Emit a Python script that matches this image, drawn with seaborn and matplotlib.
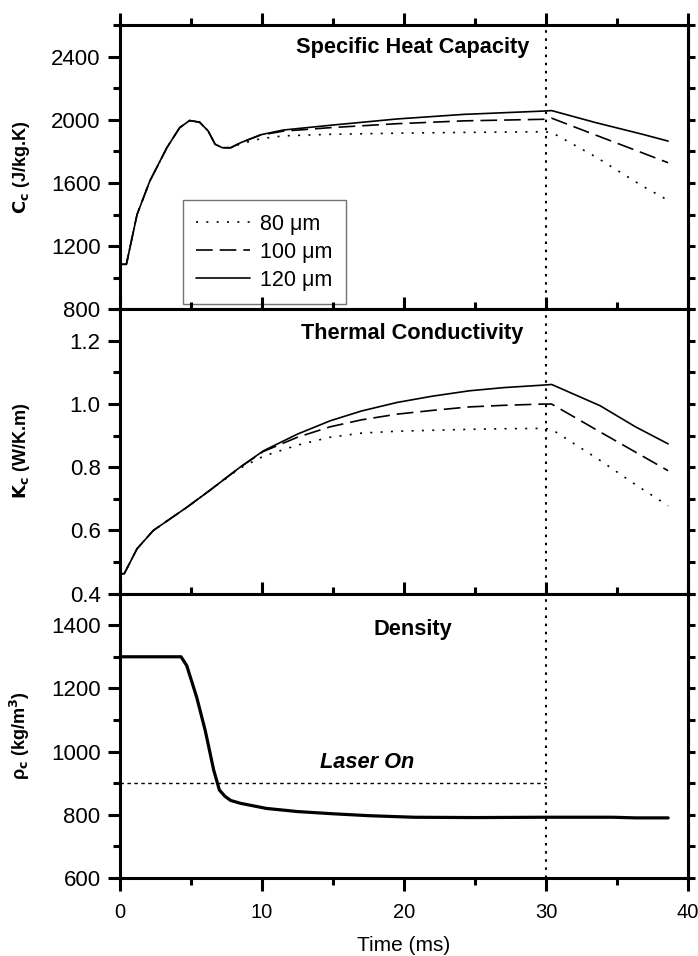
import numpy as np
import pandas as pd
import seaborn as sns
import matplotlib.pyplot as plt
from matplotlib.ticker import MultipleLocator

# ---- data ----
sizes = ["80 \u03bcm", "100 \u03bcm", "120 \u03bcm"]

# specific heat capacity
t_cp = [0, 0.45, 1.2, 2.1, 3.3, 4.2, 4.9, 5.6, 6.2, 6.7, 7.2, 7.8, 8.5, 9.9,
        11.5, 14.8, 19.5, 24.2, 29.8, 30.4, 33.5, 36.8, 38.6]
cp_80 = [1085, 1085, 1400, 1612, 1823, 1950, 1995, 1985, 1930, 1845, 1823, 1823,
         1848, 1880, 1898, 1908, 1915, 1920, 1924, 1920, 1765, 1580, 1490]
cp_100 = [1085, 1085, 1400, 1612, 1823, 1950, 1995, 1985, 1930, 1845, 1823, 1823,
          1855, 1903, 1928, 1950, 1975, 1993, 2003, 2010, 1903, 1790, 1728]
cp_120 = [1085, 1085, 1400, 1612, 1823, 1950, 1995, 1985, 1930, 1845, 1823, 1823,
          1855, 1905, 1935, 1965, 2005, 2034, 2055, 2058, 1982, 1908, 1865]

# thermal conductivity
t_k = [0, 0.3, 1.2, 2.35, 4.7, 6.3, 8.45, 10.1, 12.5, 14.8, 17, 19.5, 22, 24.6,
       27, 29.8, 30.4, 33.8, 36.3, 38.6]
k_80 = [0.463, 0.463, 0.542, 0.6, 0.673, 0.726, 0.797, 0.835, 0.87, 0.895, 0.908,
        0.914, 0.917, 0.92, 0.922, 0.923, 0.92, 0.822, 0.745, 0.678]
k_100 = [0.463, 0.463, 0.542, 0.6, 0.673, 0.726, 0.8, 0.85, 0.895, 0.928, 0.95,
         0.968, 0.98, 0.991, 0.996, 1.0, 1.0, 0.912, 0.848, 0.789]
k_120 = [0.463, 0.463, 0.542, 0.6, 0.673, 0.726, 0.8, 0.852, 0.905, 0.947, 0.978,
         1.005, 1.025, 1.042, 1.052, 1.06, 1.062, 0.995, 0.928, 0.874]

# density
t_rho = [0, 4.3, 4.7, 5.4, 6.0, 6.6, 7.0, 7.4, 7.8, 8.5, 10.3, 12.5, 15, 17.5,
         20.7, 25, 29.8, 34.7, 36.3, 38.6]
rho = [1300, 1300, 1272, 1172, 1067, 941, 878, 858, 845, 836, 820, 810, 803, 797,
       792, 791, 792, 792, 790, 790]

laser_off = 30

sns.set_style("ticks")
plt.rcParams['font.family'] = ['Liberation Sans', 'DejaVu Sans']
plt.rcParams['axes.linewidth'] = 2.2
for key in ['text.color', 'axes.labelcolor', 'xtick.color', 'ytick.color',
            'axes.edgecolor']:
    plt.rcParams[key] = 'k'

def long_df(t, ys):
    frames = []
    for name, y in zip(sizes, ys):
        frames.append(pd.DataFrame({"t": t, "v": y, "size": name}))
    return pd.concat(frames, ignore_index=True)

df_cp = long_df(t_cp, [cp_80, cp_100, cp_120])
df_k = long_df(t_k, [k_80, k_100, k_120])
df_rho = pd.DataFrame({"t": t_rho, "v": rho})

dash_map = {sizes[0]: (1.2, 5), sizes[1]: (10, 4.2), sizes[2]: ""}

fig = plt.figure(figsize=(6.98, 9.56), dpi=100)
W, H = 698, 956
left, width = 120 / W, 568 / W
tops = [25, 309.3, 593.6]
ph = 284.3
axes = [fig.add_axes([left, 1 - (tp + ph) / H, width, ph / H]) for tp in tops]
ax1, ax2, ax3 = axes

sns.lineplot(data=df_cp, x="t", y="v", style="size", style_order=sizes,
             dashes=dash_map, color="k", lw=1.2, estimator=None, sort=False,
             legend=False, ax=ax1)
sns.lineplot(data=df_k, x="t", y="v", style="size", style_order=sizes,
             dashes=dash_map, color="k", lw=1.2, estimator=None, sort=False,
             legend=False, ax=ax2)
sns.lineplot(data=df_rho, x="t", y="v", color="k", lw=2.3, estimator=None,
             sort=False, legend=False, ax=ax3)

ylims = [(800, 2600), (0.4, 1.3), (600, 1500)]
ymaj = [400, 0.2, 200]
ymin = [200, 0.1, 100]
ylabels = [r"$\mathbf{C_c}$ (J/kg.K)", r"$\mathbf{K_c}$ (W/K.m)",
           "\u03c1$_\\mathbf{c}$ (kg/m$\\mathbf{^3}$)"]
titles = ["Specific Heat Capacity", "Thermal Conductivity", "Density"]
title_y = [0.92, 0.915, 0.875]

for i, ax in enumerate(axes):
    ax.set_xlim(0, 40)
    ax.set_ylim(*ylims[i])
    ax.xaxis.set_major_locator(MultipleLocator(10))
    ax.xaxis.set_minor_locator(MultipleLocator(5))
    ax.yaxis.set_major_locator(MultipleLocator(ymaj[i]))
    ax.yaxis.set_minor_locator(MultipleLocator(ymin[i]))
    ax.tick_params(which="both", direction="out", top=True, right=False,
                   width=2.2, pad=5)
    ax.tick_params(which="major", length=9)
    ax.tick_params(which="minor", length=5)
    ax.tick_params(axis="x", pad=9, labelsize=14.5)
    ax.tick_params(axis="y", labelsize=16)
    for s in ax.spines.values():
        s.set_visible(True)
        s.set_linewidth(2.2)
    ax.set_ylabel(ylabels[i], fontsize=13, fontweight="bold")
    ax.yaxis.set_label_coords(-0.155, 0.5)
    ax.set_xlabel("")
    ax.axvline(laser_off, color="k", lw=1.5, ls=(0, (1.2, 2.7)))
    ax.text(0.515, title_y[i], titles[i], transform=ax.transAxes, ha="center",
            va="center", fontsize=15.7, fontweight="bold")
    # short ticks on the right spine, no labels
    sec = ax.secondary_yaxis("right")
    yt = np.arange(ylims[i][0], ylims[i][1] + 1e-9, ymin[i])
    sec.set_yticks(yt)
    sec.set_yticklabels([])
    sec.tick_params(direction="out", length=5, width=2.2, color="k")
    sec.spines["right"].set_linewidth(2.2)
    if i < 2:
        ax.tick_params(axis="x", labelbottom=False)

ax3.set_xlabel("Time (ms)", fontsize=15, labelpad=10)
ax3.hlines(900, 0, laser_off, colors="k", lw=1, linestyles=(0, (2.5, 2.5)))
ax3.text(17.4, 965, "Laser On", ha="center", va="center", fontsize=15.7,
         fontweight="bold", style="italic")

ax1.legend(ax1.lines[:3], sizes, loc="lower left", bbox_to_anchor=(0.111, 0.018),
           borderaxespad=0, fontsize=15.5, handlelength=2.5, frameon=True,
           fancybox=False, edgecolor="0.45", framealpha=1, labelspacing=0.33,
           borderpad=0.62, handletextpad=0.45)
ax1.get_legend().get_frame().set_linewidth(1)

fig.savefig("out.png", dpi=100)
